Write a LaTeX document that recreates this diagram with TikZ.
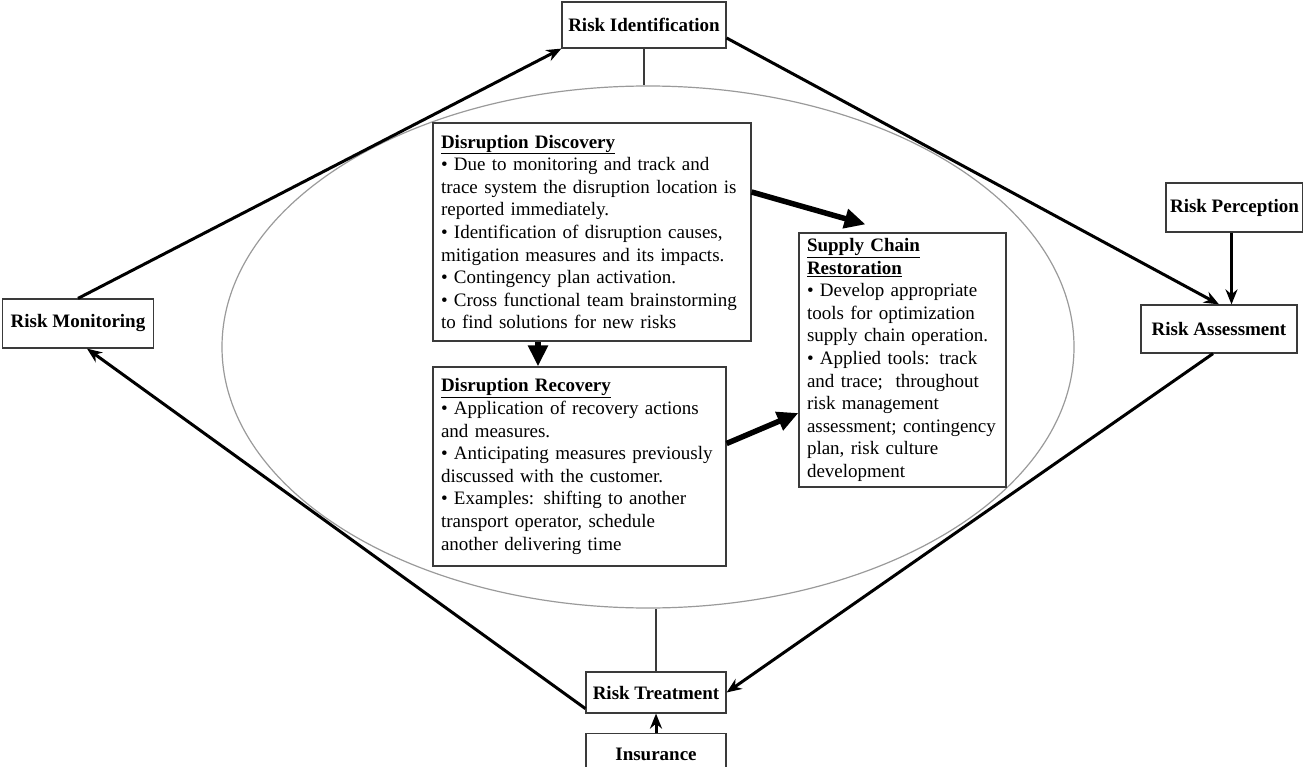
\documentclass[tikz,border=0pt]{standalone}
\usepackage{fontspec}
\setmainfont{Liberation Serif}
\usepackage{xcolor}
\usepackage{tikz}
\usetikzlibrary{arrows.meta,positioning,shapes.geometric,calc}
\definecolor{frame}{HTML}{3A3A3A}
\definecolor{ring}{HTML}{9A9A9A}
\tikzset{
  stage/.style={draw=frame, line width=1.2pt, rectangle, align=center, inner sep=0pt,
    font=\fontsize{19}{22.6}\selectfont\bfseries},
  panel/.style={draw=frame, line width=1.2pt, rectangle, align=left, inner xsep=8pt, inner ysep=0pt,
    font=\fontsize{19}{22.6}\selectfont},
  flow/.style={-{Stealth[length=15pt, width=12pt]}, line width=3pt},
  push/.style={-{Triangle[length=21pt, width=19pt]}, line width=5.5pt},
  tie/.style={draw=frame, line width=1.4pt}
}
\newcommand{\ttl}[1]{\underline{\textbf{#1}}}

\begin{document}
\begin{tikzpicture}[x=1pt, y=-1pt, node distance=19pt]
\useasboundingbox (0,0) rectangle (1303,767);
% central cycle
\node[ellipse, draw=ring, line width=1.2pt, minimum width=852pt, minimum height=522pt, inner sep=0pt] (cyc) at (648,347) {};
% risk steps
\node[stage, minimum width=164pt, minimum height=46pt] (ri) at (644,25) {Risk Identification};
\node[stage, minimum width=151pt, minimum height=49pt] (rm) at (78,323.5) {Risk Monitoring};
\node[stage, minimum width=137pt, minimum height=49pt] (rp) at (1234.5,207.5) {Risk Perception};
\node[stage, minimum width=156pt, minimum height=48pt] (ra) at (1219,329) {Risk Assessment};
\node[stage, minimum width=140pt, minimum height=41pt] (rt) at (656,692.5) {Risk Treatment};
\node[stage, minimum width=140pt, minimum height=42pt, below=of rt] (ins) {Insurance};
% disruption panels
\node[panel, text width=302pt, minimum height=218pt] (dd) at (592,232) {\ttl{Disruption Discovery}\\
\textbullet{} Due to monitoring and track and\\
trace system the disruption location is\\
reported immediately.\\
\textbullet{} Identification of disruption causes,\\
mitigation measures and its impacts.\\
\textbullet{} Contingency plan activation.\\
\textbullet{} Cross functional team brainstorming\\
to find solutions for new risks};
\node[panel, text width=277pt, minimum height=199pt] (dr) at (579.5,466.5) {\ttl{Disruption Recovery}\\
\textbullet{} Application of recovery actions\\
and measures.\\
\textbullet{} Anticipating measures previously\\
discussed with the customer.\\
\textbullet{} Examples: shifting to another\\
transport operator, schedule\\
another delivering time};
\node[panel, text width=191pt, minimum height=254pt] (scr) at (902.5,360) {\ttl{Supply Chain}\\
\ttl{Restoration}\\
\textbullet{} Develop appropriate\\
tools for optimization\\
supply chain operation.\\
\textbullet{} Applied tools: track\\
and trace;~ throughout\\
risk management\\
assessment; contingency\\
plan, risk culture\\
development};
% links to the cycle
\draw[tie] (ri.south) -- (ri.south |- cyc.north);
\draw[tie] (rt.north) -- (rt.north |- cyc.south);
% outer loop
\draw[flow] (rm.north) -- (ri.south west);
\draw[flow] ([yshift=-13pt]ri.east) -- (ra.north);
\draw[flow] ([xshift=-3pt]rp.south) -- ([xshift=-3pt]rp.south |- ra.north);
\draw[flow] ([xshift=-6pt]ra.south) -- (rt.east);
\draw[flow] ([yshift=5pt]rt.south west) -- ([xshift=9pt]rm.south);
\draw[flow] (ins.north) -- (rt.south);
% inner flow
\draw[push] ([yshift=40pt]dd.east) -- ([xshift=-37pt, yshift=8pt]scr.north);
\draw[push] ([xshift=-54pt]dd.south) -- ([xshift=-54pt]dd.south |- dr.north);
\draw[push] ([yshift=23pt]dr.east) -- ([yshift=-53pt]scr.west);
\end{tikzpicture}
\end{document}
